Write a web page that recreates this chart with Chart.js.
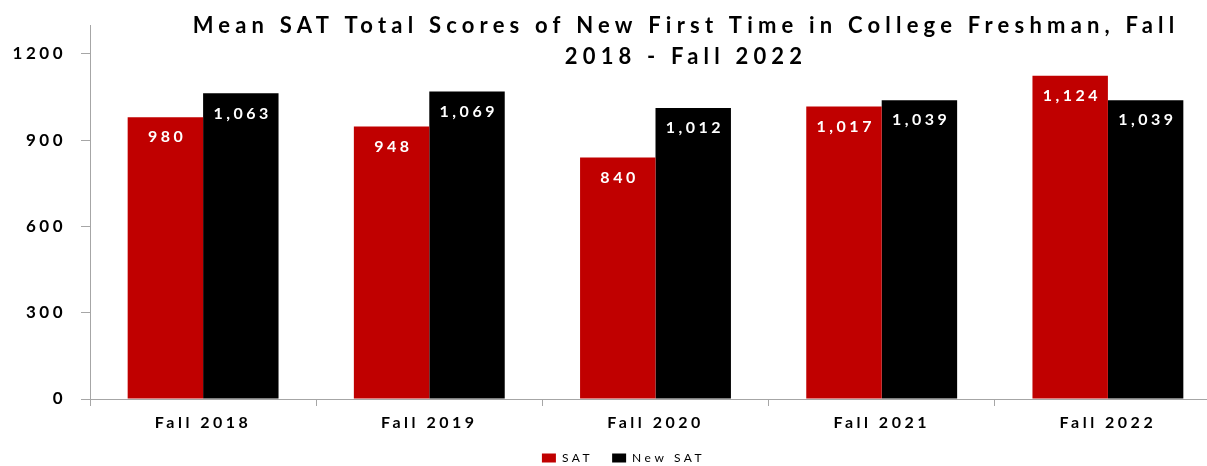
<!DOCTYPE html>
<html>
<head>
<meta charset="utf-8">
<script src="https://cdn.jsdelivr.net/npm/chart.js@4/dist/chart.umd.min.js"></script>
<style>
  html, body { margin: 0; padding: 0; background: #fff; overflow: hidden; }
  canvas { display: block; }
</style>
</head>
<body>
<canvas id="myChart" width="1232" height="466"></canvas>
<script>
/* DATOS */
const categorias = ["Fall 2018", "Fall 2019", "Fall 2020", "Fall 2021", "Fall 2022"]
const valoresSAT = [980, 948, 840, 1017, 1124]
const valoresNewSAT = [1063, 1069, 1012, 1039, 1039]
const ticksY = [0, 300, 600, 900, 1200]
const lineasTitulo = ["Mean SAT Total Scores of New First Time in College Freshman, Fall", "2018 - Fall 2022"]

const gris = "#a6a6a6"

/* PLUGINS */
// espaciado de letras para todo el texto que dibuja Chart.js
const espaciado = {
    id: "espaciado",
    beforeUpdate(chart) { chart.ctx.letterSpacing = "3.5px" },
    afterLayout(chart) { chart.scales.y.left = 0 }, // que no recorte "1200"
    beforeDraw(chart) { chart.ctx.letterSpacing = "3.5px" }
}

// etiquetas blancas dentro de cada barra
const etiquetas = {
    id: "etiquetas",
    afterDatasetsDraw(chart) {
        const ctx = chart.ctx
        ctx.save()
        ctx.font = "bold 16px Lato"
        ctx.letterSpacing = "3.5px"
        ctx.fillStyle = "#fff"
        ctx.textAlign = "center"
        ctx.textBaseline = "middle"
        chart.data.datasets.forEach((ds, i) => {
            chart.getDatasetMeta(i).data.forEach((bar, j) => {
                ctx.fillText(ds.data[j].toLocaleString("en-US"), bar.x + 1.75, bar.y + 20)
            })
        })
        ctx.restore()
    }
}

// titulo centrado a mano (Excel lo centra distinto que el area del grafico)
const titulo = {
    id: "titulo",
    afterDraw(chart) {
        const ctx = chart.ctx
        ctx.save()
        ctx.font = "bold 22px Lato"
        ctx.letterSpacing = "5.2px"
        ctx.fillStyle = "#000"
        ctx.textAlign = "center"
        ctx.textBaseline = "middle"
        lineasTitulo.forEach((linea, i) => {
            ctx.fillText(linea, 686, 26 + i * 31)
        })
        ctx.restore()
    }
}

/* GRAFICO */
const data = {
    labels: categorias,
    datasets: [
        { label: "SAT", data: valoresSAT, backgroundColor: "#c00000", borderWidth: 0 },
        { label: "New SAT", data: valoresNewSAT, backgroundColor: "#000000", borderWidth: 0 }
    ]
}

const config = {
    type: "bar",
    data,
    options: {
        responsive: false,
        animation: false,
        categoryPercentage: 0.667,
        barPercentage: 1.0,
        layout: { padding: { left: 26, right: 11, top: 23, bottom: -8 } },
        plugins: {
            title: { display: false },
            tooltip: { enabled: false },
            legend: {
                position: "bottom",
                labels: {
                    boxWidth: 14,
                    boxHeight: 9,
                    padding: 19,
                    color: "#000",
                    font: { family: "Lato", size: 12 }
                }
            }
        },
        scales: {
            x: {
                afterFit(scale) { scale.height = 34 },
                grid: { drawOnChartArea: false, tickLength: 7, color: gris },
                border: { color: gris },
                ticks: { color: "#000", padding: 7, font: { family: "Lato", size: 16, weight: "bold" } }
            },
            y: {
                min: 0,
                max: 1300,
                afterBuildTicks(scale) {
                    scale.ticks = ticksY.map((v) => ({ value: v }))
                },
                afterFit(scale) { scale.width = 64 },
                grid: { drawOnChartArea: false, tickLength: 9, color: gris },
                border: { color: gris },
                ticks: {
                    color: "#000",
                    padding: 15,
                    font: { family: "Lato", size: 17, weight: "bold" },
                    callback: (v) => String(v)
                }
            }
        }
    },
    plugins: [espaciado, etiquetas, titulo]
}

new Chart(document.querySelector("#myChart"), config)
</script>
</body>
</html>
